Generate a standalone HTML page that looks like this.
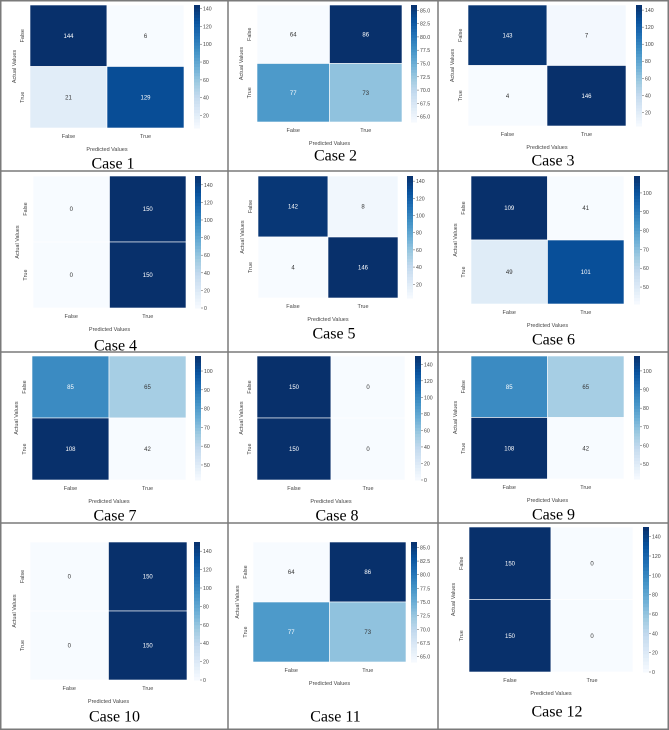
<!DOCTYPE html>
<html><head><meta charset="utf-8">
<style>
html,body{margin:0;padding:0;background:#fff;}
svg{display:block;font-family:"Liberation Sans",sans-serif;}
</style></head>
<body>
<svg id="chart" width="669" height="730" viewBox="0 0 669 730" xmlns="http://www.w3.org/2000/svg"></svg>
<script>
// data
const caseNames = ["Case 1","Case 2","Case 3","Case 4","Case 5","Case 6","Case 7","Case 8","Case 9","Case 10","Case 11","Case 12"];
const tnValues = [144,64,143,0,142,109,85,150,85,0,64,150];
const fpValues = [6,86,7,150,8,41,65,0,65,150,86,0];
const fnValues = [21,77,4,0,4,49,108,150,108,0,77,150];
const tpValues = [129,73,146,150,146,101,42,0,42,150,73,0];
const colorbarTicks = [
  [20,40,60,80,100,120,140],
  [65,67.5,70,72.5,75,77.5,80,82.5,85],
  [20,40,60,80,100,120,140],
  [0,20,40,60,80,100,120,140],
  [20,40,60,80,100,120,140],
  [50,60,70,80,90,100],
  [50,60,70,80,90,100],
  [0,20,40,60,80,100,120,140],
  [50,60,70,80,90,100],
  [0,20,40,60,80,100,120,140],
  [65,67.5,70,72.5,75,77.5,80,82.5,85],
  [0,20,40,60,80,100,120,140]
];
const classLabels = ["False","True"];

// layout (pixel boxes, not data)
const layout = [
  {x0:30,x1:184,y0:5,y1:128,cb:194,lab:163},
  {x0:257,x1:402,y0:5,y1:122,cb:411,lab:155},
  {x0:468,x1:626,y0:5,y1:126,cb:636,lab:160},
  {x0:33,x1:186,y0:176,y1:308,cb:195,lab:345},
  {x0:258,x1:398,y0:176,y1:298,cb:407,lab:333},
  {x0:471,x1:624,y0:176,y1:304,cb:634,lab:339},
  {x0:32,x1:186,y0:356,y1:480,cb:195,lab:515},
  {x0:257,x1:405,y0:356,y1:480,cb:415,lab:515},
  {x0:471,x1:624,y0:356,y1:479,cb:634,lab:514},
  {x0:30,x1:187,y0:542,y1:680,cb:194,lab:716},
  {x0:253,x1:406,y0:542,y1:662,cb:411,lab:716},
  {x0:469,x1:633,y0:527,y1:672,cb:643,lab:711}
];

const stops=[[247,251,255],[222,235,247],[198,219,239],[158,202,225],[107,174,214],[66,146,198],[33,113,181],[8,81,156],[8,48,107]];
function blues(t){t=Math.max(0,Math.min(1,t));const p=t*8,i=Math.min(7,Math.floor(p)),f=p-i;
  const c=stops[i].map((v,k)=>Math.round(v+(stops[i+1][k]-v)*f));return `rgb(${c[0]},${c[1]},${c[2]})`;}
const NS="http://www.w3.org/2000/svg";
const svg=document.getElementById('chart');
function mk(tag,attrs,parent){const e=document.createElementNS(NS,tag);for(const k in attrs)e.setAttribute(k,attrs[k]);(parent||svg).appendChild(e);return e;}

// grid borders
const gridG=mk('g',{});


[[0.75,0,0.75,730],[228,0,228,730],[438,0,438,730],[668.25,0,668.25,730],[0,0.75,669,0.75],[0,171,669,171],[0,352,669,352],[0,523,669,523],[0,729.25,669,729.25]].forEach(l=>{
  mk('line',{x1:l[0],y1:l[1],x2:l[2],y2:l[3],stroke:'#7a7a7a','stroke-width':1.5},gridG);
});

caseNames.forEach((name,ci)=>{
  const L=layout[ci];
  const vals=[[tnValues[ci],fpValues[ci]],[fnValues[ci],tpValues[ci]]];
  const flat=vals.flat();const vmin=Math.min(...flat),vmax=Math.max(...flat);
  const norm=v=>vmax===vmin?0:(v-vmin)/(vmax-vmin);
  const g=mk('g',{});
  
  
  const cw=(L.x1-L.x0)/2,chh=(L.y1-L.y0)/2;
  const xs=j=>L.x0+j*cw, ys=i=>L.y0+i*chh;
  for(let i=0;i<2;i++)for(let j=0;j<2;j++){
    const v=vals[i][j];const t=norm(v);
    const r=mk('rect',{x:xs(j),y:ys(i),width:cw,height:chh,fill:blues(t),stroke:'#fff','stroke-width':0.6},g);
    
    
    const tx=mk('text',{x:xs(j)+cw/2,y:ys(i)+chh/2+2,'font-size':6,'text-anchor':'middle',fill:t>0.5?'#fff':'#333'},g);
    tx.textContent=v;
    
    
  }
  classLabels.forEach((c,j)=>{
    const t=mk('text',{x:xs(j)+cw/2,y:L.y1+10,'font-size':5.5,'text-anchor':'middle',fill:'#444'},g);
    t.textContent=c;
    
    
    const cy=ys(j)+chh/2,cx=L.x0-6;
    const y=mk('text',{x:cx,y:cy,'font-size':5.5,'text-anchor':'middle',fill:'#444',transform:`rotate(-90 ${cx} ${cy})`},g);
    y.textContent=c;
    
    
  });
  const xt=mk('text',{x:(L.x0+L.x1)/2,y:L.y1+23,'font-size':5.5,'text-anchor':'middle',fill:'#444'},g);
  xt.textContent='Predicted Values';
  
  
  const ax=L.x0-14,ay=(L.y0+L.y1)/2;
  const yt=mk('text',{x:ax,y:ay,'font-size':5.5,'text-anchor':'middle',fill:'#444',transform:`rotate(-90 ${ax} ${ay})`},g);
  yt.textContent='Actual Values';
  
  
  const cbG=mk('g',{},g);
  
  
  const N=40,H=L.y1-L.y0;
  for(let k=0;k<N;k++){
    mk('rect',{x:L.cb,y:L.y1-(k+1)*H/N,width:6,height:H/N+0.5,fill:blues((k+0.5)/N)},cbG);
  }
  const cy=v=>L.y1-norm(v)*H;
  colorbarTicks[ci].forEach(v=>{
    const yy=cy(v);
    mk('line',{x1:L.cb+6,x2:L.cb+8,y1:yy,y2:yy,stroke:'#555','stroke-width':0.5},cbG);
    const t=mk('text',{x:L.cb+9,y:yy+2,'font-size':5.2,fill:'#444'},cbG);
    t.textContent=colorbarTicks[ci].some(x=>x%1)?v.toFixed(1):v;
    
    
  });
  const lab=mk('text',{x:(L.x0+L.x1)/2+6,y:L.lab+5.5,'font-size':16,'text-anchor':'middle',fill:'#000','font-family':'Liberation Serif, serif'},g);
  lab.textContent=name;
  
  
});
</script>
</body></html>
